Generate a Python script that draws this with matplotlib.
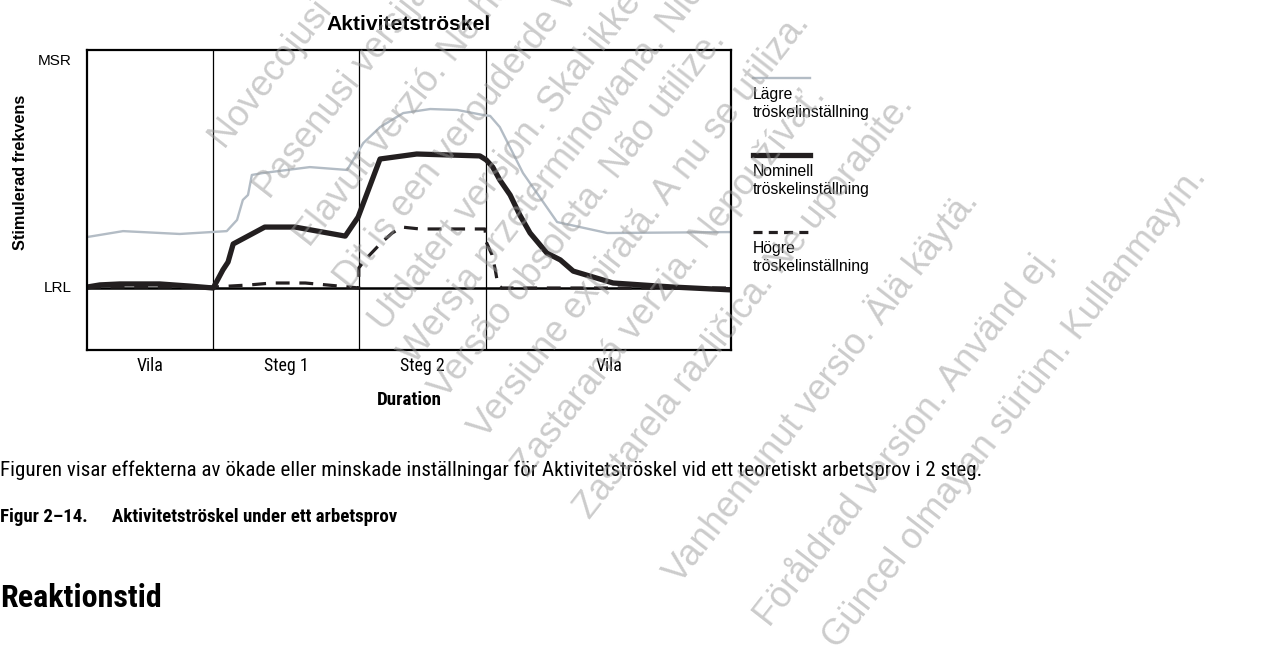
import matplotlib
matplotlib.use("Agg")
import matplotlib.pyplot as plt
from matplotlib.lines import Line2D

# ---------------- data (time 0-100, rate: LRL = 0, top of box = 100) ----------------
phase_edges = [0, 19.6, 42.2, 62.0, 100]
phase_labels = ["Vila", "Steg 1", "Steg 2", "Vila"]

x_lower = [0, 5.6, 14.4, 21.7, 23.3, 24.2, 25.0, 25.6, 27.3, 34.6, 40.4, 42.9,
           45.5, 49.1, 53.3, 57.5, 61.5, 62.6, 64.1, 67.7, 70.3, 73.0, 80.8, 100]
y_lower = [21.4, 23.9, 22.7, 23.9, 28.6, 37.0, 39.1, 47.5, 48.3, 50.8, 49.6, 60.9,
           67.6, 73.5, 75.2, 74.8, 72.7, 72.3, 67.6, 48.3, 38.2, 27.7, 23.1, 23.5]

x_nominal = [0, 2.0, 5.1, 11.3, 16.0, 19.6, 21.1, 21.9, 22.7, 27.6, 32.3, 40.1, 42.1,
             45.5, 51.2, 61.0, 62.0, 63.0, 64.1, 65.7, 67.2, 68.8, 71.4, 73.5, 75.5,
             81.7, 91.0, 100]
y_nominal = [0.4, 1.3, 1.7, 1.7, 0.8, 0, 7.6, 10.9, 18.5, 25.6, 25.6, 21.8, 29.8,
             54.2, 56.3, 55.5, 53.8, 50.8, 45.4, 39.1, 30.7, 23.1, 14.7, 11.8, 7.1,
             2.1, 0.4, -0.8]

x_higher = [0, 19.6, 25.3, 28.7, 33.9, 40.8, 42.2, 42.2, 42.9, 43.9, 45.8, 47.4,
            48.9, 51.7, 59.5, 61.8, 62.0, 62.9, 63.4, 63.8, 64.4, 100]
y_higher = [0.4, 0.4, 1.3, 2.1, 2.1, 0.4, 0, 8.4, 10.9, 13.9, 19.3, 23.1, 25.6,
            24.8, 24.8, 24.8, 19.3, 13.9, 7.6, 1.3, 0, 0]

rate_ticks = [96, 0.5]
rate_tick_labels = ["MSR", "LRL"]

legend_labels = ["Lägre\ntröskelinställning", "Nominell\ntröskelinställning",
                 "Högre\ntröskelinställning"]

title = "Aktivitetströskel"
ylabel = "Stimulerad frekvens"
xlabel = "Duration"
caption = ("Figuren visar effekterna av ökade eller minskade inställningar för "
           "Aktivitetströskel vid ett teoretiskt arbetsprov i 2 steg.")
fig_num = "Figur 2–14."
fig_title = "Aktivitetströskel under ett arbetsprov"
heading = "Reaktionstid"

watermark_lines = [
    "Novecojusi versija. Neizmantot.",
    "Pasenusi versija. Nenaudokite.",
    "Elavult verzió. Ne használja!",
    "Dit is een verouderde versie. Niet gebruiken.",
    "Utdatert versjon. Skal ikke brukes.",
    "Wersja przeterminowana. Nie używać.",
    "Versão obsoleta. Não utilize.",
    "Versiune expirată. A nu se utiliza.",
    "Zastaraná verzia. Nepoužívať.",
    "Zastarela različica. Ne uporabite.",
    "Vanhentunut versio. Älä käytä.",
    "Föråldrad version. Använd ej.",
    "Güncel olmayan sürüm. Kullanmayın.",
]
watermark_starts = [(225, 150), (270, 200), (310, 248), (350, 290), (385, 332),
                    (415, 365), (445, 400), (485, 440), (528, 478), (590, 520),
                    (680, 585), (770, 628), (838, 650)]

# ---------------- styling ----------------
plt.rcParams["font.family"] = ["Liberation Sans", "DejaVu Sans"]
plt.rcParams["lines.scale_dashes"] = False
NARROW = ["Liberation Sans Narrow", "Roboto Condensed", "Open Sans Condensed",
          "Liberation Sans", "DejaVu Sans"]

INK = "#231f20"
GRAY = "#b3bcc5"

W, H = 1266, 650
fig = plt.figure(figsize=(W / 100, H / 100), dpi=100)
fig.patch.set_facecolor("white")


def fx(px):
    return px / W


def fy(py):
    return 1 - py / H


ax = fig.add_axes([fx(87), fy(350), (731 - 87) / W, (350 - 50) / H])
ax.set_xlim(0, 100)
ax.set_ylim(-26.05, 100)
for s in ax.spines.values():
    s.set_linewidth(1.6)
    s.set_color("black")
ax.set_xticks([])
ax.set_yticks(rate_ticks)
ax.set_yticklabels(rate_tick_labels)
ax.tick_params(axis="y", length=0, pad=11, labelsize=11)

for e in phase_edges[1:-1]:
    ax.axvline(e, color="black", lw=0.9)
ax.axhline(0, color="black", lw=1.8)

ax.plot(x_lower, y_lower, color=GRAY, lw=1.7, solid_joinstyle="round")
ax.plot(x_higher, y_higher, color=INK, lw=2.3, dashes=(10, 7))
ax.plot(x_nominal, y_nominal, color=INK, lw=3.8, solid_joinstyle="round",
        solid_capstyle="butt")

renderer = fig.canvas.get_renderer()


def fit(t, target, use_height=False):
    for _ in range(3):
        bb = t.get_window_extent(renderer)
        cur = bb.height if use_height else bb.width
        t.set_fontsize(t.get_fontsize() * target / cur)
    return t.get_fontsize()


# title
t = fig.text(fx(409), fy(24), title, ha="center", va="center", fontsize=14, fontweight="bold")
fit(t, 165)

# y label
t = fig.text(fx(21), fy(172), ylabel, ha="center", va="center", rotation=90,
             fontsize=12, fontweight="bold")
fit(t, 155, use_height=True)

# phase labels
centers = [(a + b) / 2 for a, b in zip(phase_edges[:-1], phase_edges[1:])]
lab_texts = []
for c, lab in zip(centers, phase_labels):
    lt = ax.annotate(lab, xy=(c, 0), xycoords=("data", "axes fraction"),
                     xytext=(0, -16 * 0.72), textcoords="offset points",
                     ha="center", va="center", fontsize=11, family=NARROW)
    lab_texts.append(lt)
size = fit(lab_texts[1], 45)
for lt in lab_texts:
    lt.set_fontsize(size)

t = fig.text(fx(409), fy(400), xlabel, ha="center", va="center", fontsize=11,
             fontweight="bold", family=NARROW)
fit(t, 65)

# legend (drawn manually: sample line above a two-line label)
leg_y = [78, 155, 232]
styles = [dict(color=GRAY, lw=1.7), dict(color=INK, lw=3.8),
          dict(color=INK, lw=2.3, dashes=(6.5, 4.5))]
leg_texts = []
for yy, st, lab in zip(leg_y, styles, legend_labels):
    fig.add_artist(Line2D([fx(753), fx(810)], [fy(yy), fy(yy)], transform=fig.transFigure, **st))
    lt = fig.text(fx(753), fy(yy + 9), lab, ha="left", va="top", fontsize=10,
                  linespacing=1.25)
    leg_texts.append(lt)
probe = fig.text(0, 0, "tröskelinställning", fontsize=10)
lsize = fit(probe, 117)
probe.remove()
for lt in leg_texts:
    lt.set_fontsize(lsize)

# text below the chart
t = fig.text(0, fy(470), caption, ha="left", va="center", fontsize=11, family=NARROW)
fit(t, 980)

t1 = fig.text(0, fy(517), fig_num, ha="left", va="center", fontsize=12,
              fontweight="bold", family=NARROW)
t2 = fig.text(fx(120), fy(517), fig_title, ha="left", va="center", fontsize=12,
              fontweight="bold", family=NARROW)
for _ in range(3):
    e1 = t1.get_window_extent(renderer)
    t2.set_x(fx(e1.x1 + 24))
    e2 = t2.get_window_extent(renderer)
    k = 397 / e2.x1
    t1.set_fontsize(t1.get_fontsize() * k)
    t2.set_fontsize(t2.get_fontsize() * k)
e1 = t1.get_window_extent(renderer)
t2.set_x(fx(e1.x1 + 24))

t = fig.text(0, fy(598), heading, ha="left", va="center", fontsize=18,
             fontweight="bold", family=NARROW)
fit(t, 161)

# document watermark (light, diagonal, on top)
for txt, (sx, sy) in zip(watermark_lines, watermark_starts):
    fig.text(fx(sx), fy(sy), txt, rotation=52, rotation_mode="anchor",
             ha="left", va="baseline", fontsize=26, color="#9a9a9a", alpha=0.5,
             zorder=10)

fig.savefig("out.png", dpi=100)
